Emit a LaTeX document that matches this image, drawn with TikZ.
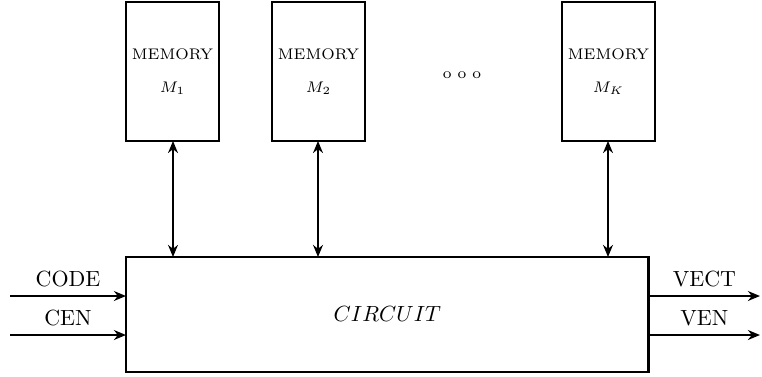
\documentclass[tikz,border=0pt]{standalone}
\usetikzlibrary{arrows.meta}
\begin{document}
\begin{tikzpicture}[x=0.016cm,y=-0.016cm,
  box/.style={draw,line width=1.2pt,inner sep=0pt,outer sep=0pt},
  membox/.style={box,minimum width=1.488cm,minimum height=2.224cm,anchor=north west},
  tip/.tip={Stealth[length=5.5pt,width=4.5pt,inset=1.8pt]},
  conn/.style={line width=1.2pt,-tip},
  biconn/.style={line width=1.2pt,tip-tip},
  memtext/.style={font=\scriptsize,align=center}]
\useasboundingbox (0,0) rectangle (762,376);
% memory boxes
\node[membox] (m1) at (126,2) {};
\node[membox] (m2) at (272,2) {};
\node[membox] (mk) at (562,2) {};
\node[memtext] (t1) at (m1.center) {MEMORY\\[7pt]$M_1$};
\node[memtext] (t2) at (m2.center) {MEMORY\\[7pt]$M_2$};
\node[memtext] (tk) at (mk.center) {MEMORY\\[7pt]$M_K$};
\node[font=\scriptsize] (dots) at (462,75) {o o o};
% circuit
\node[box,minimum width=8.368cm,minimum height=1.84cm,anchor=north west] (c) at (126,257) {};
\node (ct) at (c.center) {$CIRCUIT$};
% bidirectional connectors
\coordinate (c1) at (173,257);
\coordinate (c2) at (318,257);
\coordinate (ck) at (608,257);
\draw[biconn] (m1.south -| c1) -- (c1);
\draw[biconn] (m2.south -| c2) -- (c2);
\draw[biconn] (mk.south -| ck) -- (ck);
% inputs and outputs
\coordinate (in1) at (10,296);
\coordinate (in2) at (10,335);
\coordinate (out1) at (760,296);
\coordinate (out2) at (760,335);
\draw[conn] (in1) -- (in1 -| c.west) node[midway,above] (lcode) {CODE};
\draw[conn] (in2) -- (in2 -| c.west) node[midway,above] (lcen) {CEN};
\draw[conn] (out1 -| c.east) -- (out1) node[midway,above] (lvect) {VECT};
\draw[conn] (out2 -| c.east) -- (out2) node[midway,above] (lven) {VEN};
\end{tikzpicture}
\end{document}
